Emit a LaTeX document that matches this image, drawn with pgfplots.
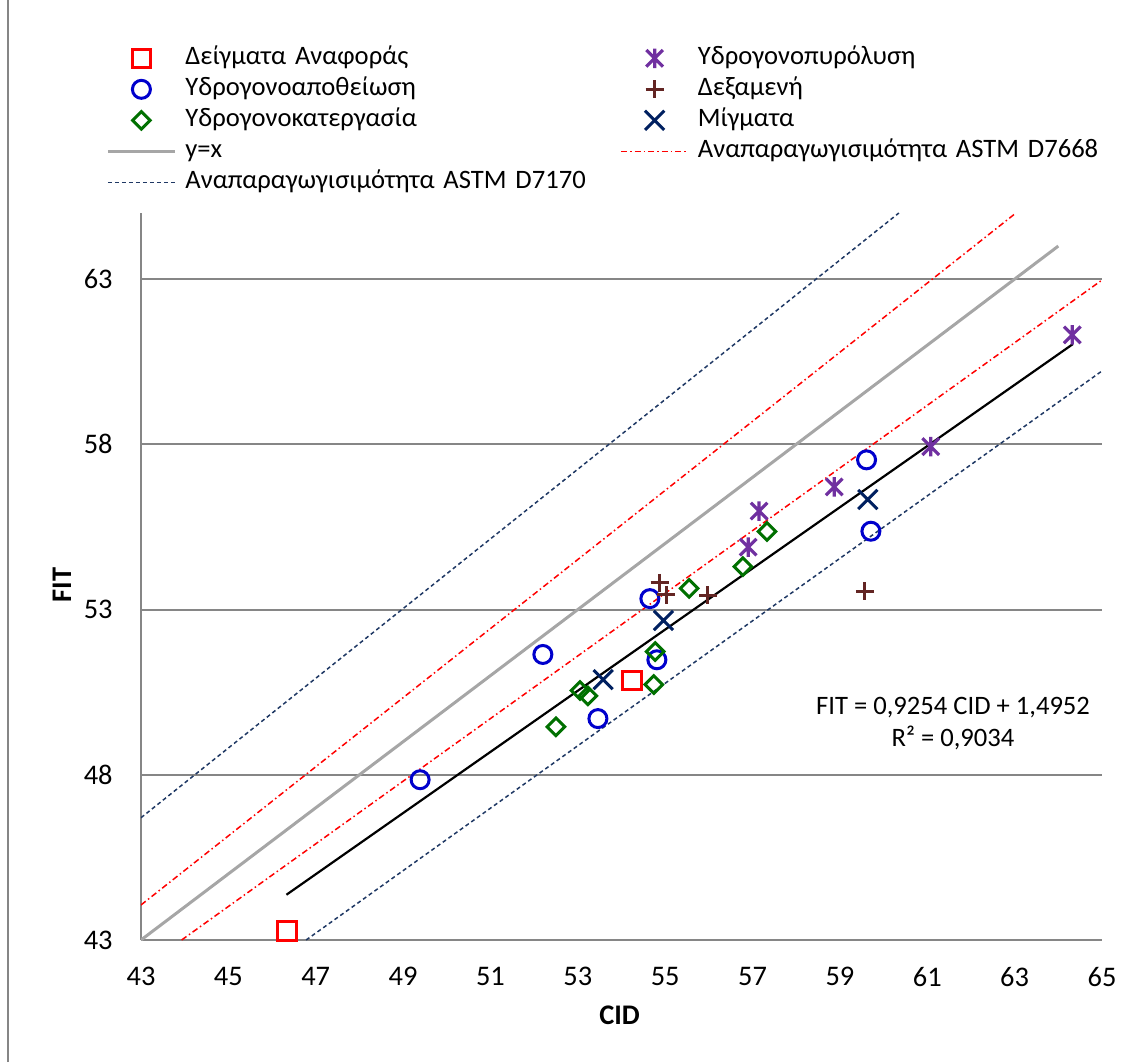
\documentclass[border=0pt]{standalone}
\usepackage{pgfplots}
\pgfplotsset{compat=1.18}
\usepackage{fontspec}
\setmainfont{Carlito}
\definecolor{axgray}{RGB}{134,134,134}
\definecolor{lgray}{RGB}{166,166,166}
\definecolor{mblue}{RGB}{0,0,204}
\definecolor{mgreen}{RGB}{0,112,0}
\definecolor{mpurple}{RGB}{112,48,160}
\definecolor{mbrown}{RGB}{99,37,35}
\definecolor{mnavy}{RGB}{0,32,96}
\definecolor{dblue}{RGB}{31,56,100}
\newcommand\fs{\fontsize{13.3pt}{16pt}\selectfont}
\newcommand\ts{\fontsize{14.2pt}{16pt}\selectfont}
\pgfdeclareplotmark{xstar}{%
 \pgfpathmoveto{\pgfqpoint{0pt}{-\pgfplotmarksize}}\pgfpathlineto{\pgfqpoint{0pt}{\pgfplotmarksize}}%
 \pgfpathmoveto{\pgfqpoint{-.85\pgfplotmarksize}{-.85\pgfplotmarksize}}\pgfpathlineto{\pgfqpoint{.85\pgfplotmarksize}{.85\pgfplotmarksize}}%
 \pgfpathmoveto{\pgfqpoint{-.85\pgfplotmarksize}{.85\pgfplotmarksize}}\pgfpathlineto{\pgfqpoint{.85\pgfplotmarksize}{-.85\pgfplotmarksize}}%
 \pgfusepathqstroke}
\begin{document}
\begin{tikzpicture}
\useasboundingbox (-70.5pt,-61pt) rectangle (498pt,470pt);
\draw[axgray, line width=1pt] (-66.5pt,-61pt) -- (-66.5pt,470pt);
\begin{axis}[
 at={(0pt,0pt)}, anchor=south west,
 scale only axis, width=480.5pt, height=363.5pt,
 xmin=43, xmax=65, ymin=43, ymax=65,
 xtick={43,45,...,65}, ytick={43,48,...,63},
 axis lines=left, axis line style={-, draw=axgray, line width=1pt},
 ymajorgrids, grid style={draw=axgray, line width=1pt},
 major tick length=0pt,
 tick label style={font=\ts},
 /pgf/number format/assume math mode=true,
 yticklabel style={inner sep=0pt, xshift=-14pt},
 xticklabel style={inner sep=0pt, yshift=-13.5pt},
 xlabel={\textbf{CID}}, ylabel={\textbf{FIT}},
 label style={font=\ts},
 xlabel style={at={(axis description cs:0.498,-0.103)}, anchor=center},
 ylabel style={at={(axis description cs:-0.0822,0.488)}, anchor=center},
 legend columns=2,
 legend cell align=left,
 legend image code/.code={\draw[mark repeat=2,mark phase=2,#1] plot coordinates {(0pt,0pt) (16.75pt,0pt) (33.5pt,0pt)};},
 legend style={at={(rel axis cs:-0.0364,1.2305)}, anchor=north west, draw=none, fill=none, inner sep=0pt, font=\fs,
   row sep=3pt, column sep=4.5pt, /tikz/every even column/.append style={column sep=0pt},
   nodes={inner sep=0pt, text height=9.5pt, text depth=3pt, text width=217.5pt}},
]
% reference lines
\addplot[lgray, line width=1.5pt, forget plot] coordinates {(43,43) (64,64)};
\addplot[red, line width=0.75pt, dash pattern=on 3pt off 1.5pt on 0.75pt off 1.5pt, forget plot] coordinates {(43,44.06) (63.03,65)};
\addplot[red, line width=0.75pt, dash pattern=on 3pt off 1.5pt on 0.75pt off 1.5pt, forget plot] coordinates {(43.93,43) (65,62.97)};
\addplot[dblue, line width=0.75pt, dash pattern=on 2pt off 1.5pt, forget plot] coordinates {(43,46.7) (60.35,65)};
\addplot[dblue, line width=0.75pt, dash pattern=on 2pt off 1.5pt, forget plot] coordinates {(46.78,43) (65,60.22)};
\addplot[black, line width=1.1pt, forget plot] coordinates {(46.33,44.37) (64.33,61.03)};
% data
\addplot[only marks, red, mark=square, mark size=4.6pt, mark options={line width=1.5pt}] coordinates {(46.34,43.27) (54.24,50.85)};
\addlegendentry{Δείγματα Αναφοράς}
\addplot[only marks, mpurple, mark=xstar, mark size=4.9pt, mark options={line width=1.6pt}] coordinates {(56.90,54.89) (57.15,55.98) (58.87,56.71) (61.08,57.93) (64.32,61.31)};
\addlegendentry{Υδρογονοπυρόλυση}
\addplot[only marks, mblue, mark=o, mark size=4.5pt, mark options={line width=1.5pt}] coordinates {(49.39,47.85) (52.20,51.64) (53.46,49.70) (54.65,53.33) (54.81,51.48) (59.61,57.53) (59.71,55.37)};
\addlegendentry{Υδρογονοαποθείωση}
\addplot[only marks, mbrown, mark=+, mark size=4.5pt, mark options={line width=1.5pt}] coordinates {(54.87,53.81) (55.02,53.45) (55.98,53.44) (59.57,53.55)};
\addlegendentry{Δεξαμενή}
\addplot[only marks, mgreen, mark=square, mark size=3.1pt, mark options={line width=1.5pt, rotate=45}] coordinates {(52.50,49.45) (53.05,50.55) (53.23,50.39) (54.74,50.73) (54.77,51.73) (55.55,53.64) (56.78,54.30) (57.33,55.36)};
\addlegendentry{Υδρογονοκατεργασία}
\addplot[only marks, mnavy, mark=x, mark size=6.8pt, mark options={line width=1.5pt}] coordinates {(53.58,50.88) (54.96,52.67) (59.64,56.33)};
\addlegendentry{Μίγματα}
\addlegendimage{lgray, line width=1.5pt}
\addlegendentry{y=x}
\addlegendimage{red, line width=0.75pt, dash pattern=on 3pt off 1.5pt on 0.75pt off 1.5pt}
\addlegendentry{Αναπαραγωγισιμότητα ASTM D7668}
\addlegendimage{dblue, line width=0.75pt, dash pattern=on 2pt off 1.5pt}
\addlegendentry{Αναπαραγωγισιμότητα ASTM D7170}
\node[font=\fs, align=center] at (axis cs:61.59,49.55) {FIT = 0,9254 CID + 1,4952\\R² = 0,9034};
\end{axis}
\end{tikzpicture}
\end{document}
